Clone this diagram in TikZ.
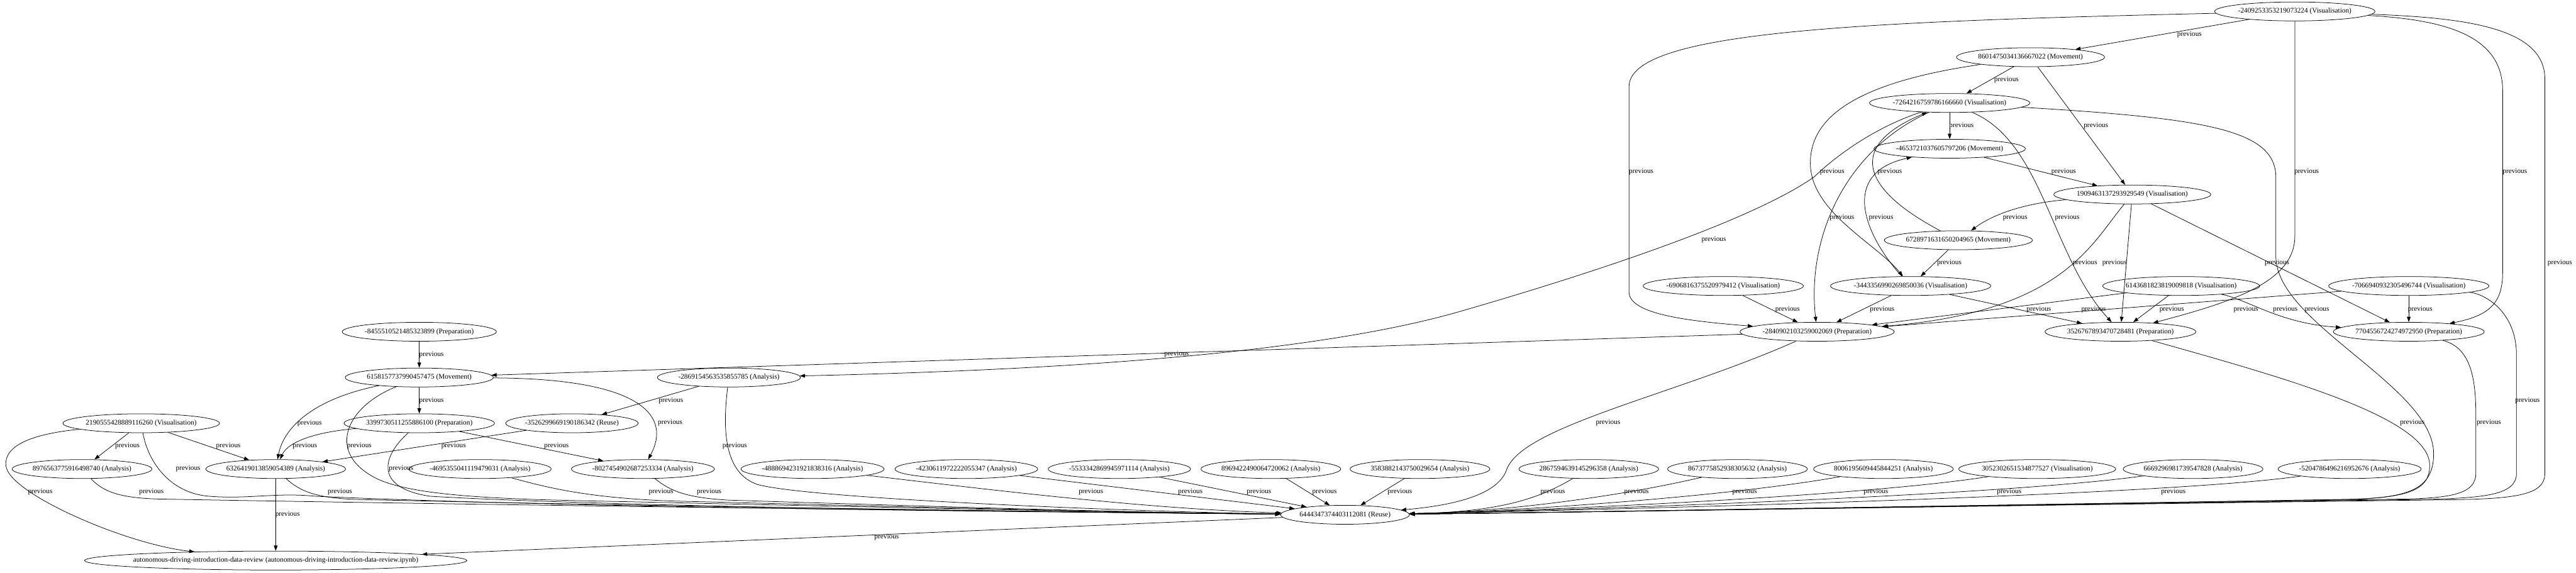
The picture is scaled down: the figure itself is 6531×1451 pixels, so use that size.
\documentclass[tikz,border=0pt]{standalone}
\usepackage{fontspec}
\setmainfont{Liberation Serif}
\usetikzlibrary{arrows.meta,shapes.geometric}
\begin{document}
\begin{tikzpicture}[
    x=0.75pt, y=-0.75pt,
    cell/.style={draw, ellipse, line width=0.9pt, inner xsep=0pt, inner ysep=0pt,
      minimum height=36pt, font=\fontsize{13.5}{15}\selectfont},
    link/.style={line width=0.9pt, -{Triangle[length=10pt,width=7pt]}},
    lbl/.style={font=\fontsize{13.5}{15}\selectfont, inner sep=0pt},
  ]
    \useasboundingbox (0,0) rectangle (6531,1451);
    % upper chain
    \node[cell] (vA) at (5818,29) {-2409253353219073224 (Visualisation)};
    \node[cell] (mA) at (5148,145) {8601475034136667022 (Movement)};
    \node[cell] (vB) at (4943,261) {-7264216759786166660 (Visualisation)};
    \node[cell] (mB) at (4943,377) {-4653721037605797206 (Movement)};
    \node[cell] (vC) at (5406,493) {1909463137293929549 (Visualisation)};
    \node[cell] (mC) at (4965,609) {6728971631650204965 (Movement)};
    \node[cell] (vD) at (4369,725) {-6906816375520979412 (Visualisation)};
    \node[cell] (vE) at (4844,725) {-3443356990269850036 (Visualisation)};
    \node[cell] (vF) at (5530,725) {6143681823819009818 (Visualisation)};
    \node[cell] (vG) at (6107,725) {-7066940932305496744 (Visualisation)};
    \node[cell] (pB) at (4607,841) {-2840902103259002069 (Preparation)};
    \node[cell] (pC) at (5376,841) {3526767893470728481 (Preparation)};
    \node[cell] (pD) at (6107,841) {7704556724274972950 (Preparation)};
    % left chain
    \node[cell] (pA) at (1063,841) {-8455510521485323899 (Preparation)};
    \node[cell] (mD) at (1063,957) {6158157737990457475 (Movement)};
    \node[cell] (aA) at (1848,957) {-2869154563535855785 (Analysis)};
    \node[cell] (vH) at (358,1073) {2190555428889116260 (Visualisation)};
    \node[cell] (pE) at (1063,1073) {3399730511255886100 (Preparation)};
    \node[cell] (rA) at (1450,1073) {-3526299669190186342 (Reuse)};
    % analysis row
    \foreach \nm/\x/\lb in {
      aB/208/8976563775916498740, aC/699/6326419013859054389,
      aD/1217/-4695355041119479031, aE/1630/-8027454902687253334,
      aF/2060/-4888694231921838316, aG/2450/-4230611972222055347,
      aH/2838/-5533342869945971114, aI/3222/8969422490064720062,
      aJ/3600/3583882143750029654, aK/4028/2867594639145296358,
      aL/4405/8673775852938305632, aM/4775/8006195609445844251,
      aN/5560/6669296981739547828, aO/5957/-5204786496216952676}
    { \node[cell] (\nm) at (\x,1189) {\lb\ (Analysis)}; }
    \node[cell] (vI) at (5165,1189) {3052302651534877527 (Visualisation)};
    \node[cell] (rB) at (3410,1305) {6444347374403112081 (Reuse)};
    \node[cell, inner xsep=-14pt] (nb) at (699,1421)
      {autonomous-driving-introduction-data-review (autonomous-driving-introduction-data-review.ipynb)};
    % straight edges
    \foreach \a/\b in {vA/mA, mA/vB, mA/vC, vB/mB, mB/vC, vC/pC, vC/pD, mC/vE,
      vD/pB, vE/pB, vE/pC, vF/pB, vF/pC, vG/pB, vG/pD, pB/mD, pA/mD, mD/pE,
      aA/rA, vH/aB, vH/aC, pE/aE, rA/aC, aC/nb, rB/nb,
      aG/rB, aH/rB, aI/rB, aJ/rB}
    { \draw[link] (\a) -- (\b); }
    % right part of the analysis row
    \foreach \nm/\cx/\cy in {aK/3900/1265, aL/4090/1262, aM/4363/1262,
      vI/4696/1262, aN/5034/1262, aO/5450/1262}
    { \draw[link] (\nm) .. controls (\cx,\cy) and (3800,1298) .. (rB); }
    % curved edges, upper chain
    \draw[link] (vA) .. controls (4700,55) and (4130,80) .. (4130,220) -- (4130,740)
      .. controls (4130,800) and (4300,815) .. (pB);
    \draw[link] (vA) -- (5818,600) .. controls (5818,720) and (5640,770) .. (pC);
    \draw[link] (vA) .. controls (6200,50) and (6345,90) .. (6345,230) -- (6345,690)
      .. controls (6345,770) and (6310,800) .. (pD);
    \draw[link] (vA) .. controls (6250,45) and (6452,70) .. (6452,200) -- (6452,1200)
      .. controls (6452,1255) and (6380,1265) .. (6200,1267)
      .. controls (5200,1280) and (3900,1300) .. (rB);
    \draw[link] (mA) .. controls (4700,210) and (4585,300) .. (4590,420)
      .. controls (4595,540) and (4760,620) .. (vE);
    \draw[link] (vB) .. controls (4680,380) and (4580,600) .. (pB);
    \draw[link] (vB) .. controls (5180,360) and (5200,650) .. (pC);
    \draw[link] (vB) .. controls (5600,300) and (5770,330) .. (5770,450) -- (5770,650)
      .. controls (5770,820) and (6170,980) .. (6170,1150)
      .. controls (6170,1245) and (6100,1262) .. (5950,1266)
      .. controls (5100,1280) and (3900,1300) .. (rB);
    \draw[link] (vB) .. controls (4760,320) and (4660,390) .. (4600,448)
      .. controls (4470,540) and (4150,660) .. (3700,790)
      .. controls (3300,905) and (2600,940) .. (aA);
    \draw[link] (vC) .. controls (5130,515) and (5050,545) .. (mC);
    \draw[link] (vC) .. controls (5300,620) and (5230,790) .. (pB);
    \draw[link] (mC) .. controls (4720,480) and (4680,370) .. (vB);
    \draw[link] (vE) .. controls (4730,600) and (4660,440) .. (mB);
    \draw[link] (vF) .. controls (5700,760) and (5780,820) .. (pD);
    \draw[link] (vG) .. controls (6300,745) and (6380,790) .. (6380,900) -- (6380,1200)
      .. controls (6380,1255) and (6300,1262) .. (6150,1266)
      .. controls (5200,1280) and (3900,1300) .. (rB);
    \draw[link] (pB) .. controls (4250,1000) and (3860,1080) .. (3820,1190)
      .. controls (3800,1250) and (3700,1280) .. (rB);
    \draw[link] (pC) .. controls (5800,960) and (6160,1060) .. (6160,1180)
      .. controls (6160,1245) and (6100,1262) .. (5950,1266)
      .. controls (5100,1280) and (3900,1300) .. (rB);
    \draw[link] (pD) .. controls (6260,880) and (6277,950) .. (6277,1050) -- (6277,1200)
      .. controls (6277,1250) and (6220,1262) .. (6100,1265)
      .. controls (5200,1280) and (3900,1300) .. (rB);
    % curved edges, left chain
    \draw[link] (mD) .. controls (800,1010) and (720,1080) .. (aC);
    \draw[link] (mD) .. controls (880,1030) and (830,1140) .. (940,1205)
      .. controls (1030,1262) and (1300,1266) .. (1600,1272)
      .. controls (2300,1288) and (2950,1300) .. (rB);
    \draw[link] (mD) .. controls (1640,960) and (1700,1060) .. (aE);
    \draw[link] (aA) .. controls (1830,1100) and (1840,1200) .. (1920,1228)
      .. controls (2050,1265) and (2900,1298) .. (rB);
    \draw[link] (vH) .. controls (375,1170) and (430,1250) .. (530,1258)
      .. controls (630,1266) and (700,1248) .. (800,1258)
      .. controls (1500,1290) and (2900,1300) .. (rB);
    \draw[link] (vH) .. controls (80,1100) and (10,1130) .. (15,1180)
      .. controls (20,1250) and (320,1380) .. (nb);
    \draw[link] (pE) .. controls (800,1095) and (730,1120) .. (aC);
    \draw[link] (pE) .. controls (975,1150) and (940,1235) .. (1090,1258)
      .. controls (1600,1288) and (2900,1300) .. (rB);
    \draw[link] (aB) .. controls (260,1245) and (300,1262) .. (400,1265)
      .. controls (1500,1285) and (2900,1300) .. (rB);
    \draw[link] (aC) .. controls (760,1245) and (800,1262) .. (900,1266)
      .. controls (1700,1285) and (2900,1300) .. (rB);
    \draw[link] (aD) .. controls (1400,1240) and (1500,1262) .. (1700,1270)
      .. controls (2300,1285) and (2900,1300) .. (rB);
    \draw[link] (aE) .. controls (1700,1245) and (1740,1262) .. (1850,1268)
      .. controls (2400,1285) and (2900,1300) .. (rB);
    \draw[link] (aF) .. controls (2500,1240) and (2900,1290) .. (rB);
    % edge labels
    \foreach \x/\y [count=\i] in {
      5551/87, 4161/435, 5848/435, 6376/435, 6490/666, 5087/203, 5314/319,
      4645/435, 4973/319, 4670/551, 5241/551, 5773/667, 4345/608, 5232/435,
      5109/551, 5286/667, 5361/667, 4791/435, 4769/551, 4942/667,
      4532/784, 4772/784, 5169/784, 5308/784, 5506/784, 5694/784, 5794/784,
      5874/784, 6136/784,
      2983/897, 1094/899, 4077/1072, 6116/1072, 6310/1072, 6408/1015,
      1094/1015, 785/1073, 911/1131, 1699/1072, 1701/1015, 1863/1130,
      323/1131, 579/1131, 477/1188, 102/1247, 773/1131, 1017/1188,
      1411/1131, 1150/1131,
      384/1247, 862/1247, 1676/1247, 1798/1247, 2766/1247, 3018/1247,
      3192/1247, 3358/1247, 3549/1247, 3937/1247, 4149/1247, 4423/1247,
      4756/1247, 5094/1247, 5510/1247,
      729/1305, 2248/1362}
    { \node[lbl] (e\i) at (\x,\y) {previous}; }
\end{tikzpicture}
\end{document}
